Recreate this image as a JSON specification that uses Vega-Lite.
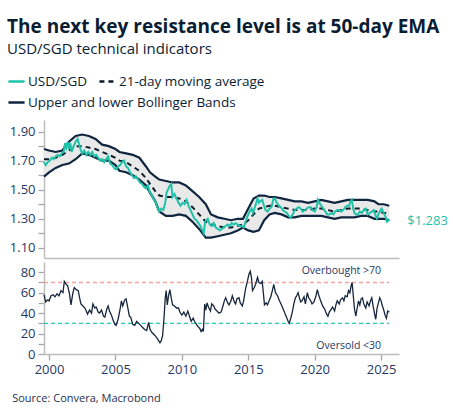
{
  "$schema": "https://vega.github.io/schema/vega-lite/v6.json",
  "background": "white",
  "padding": {"left": 7, "top": 18, "right": 5, "bottom": 8},
  "title": {
    "text": "The next key resistance level is at 50-day EMA",
    "subtitle": "USD/SGD technical indicators",
    "anchor": "start",
    "frame": "bounds",
    "font": "Open Sans",
    "fontSize": 19,
    "fontWeight": "bold",
    "color": "#0b1d33",
    "subtitleFont": "Open Sans",
    "subtitleFontSize": 15,
    "subtitleColor": "#0b1d33",
    "subtitlePadding": 5,
    "offset": 15
  },
  "datasets": {
    "fx": [
      {"t":1999.62,"p":1.69},{"t":1999.75,"p":1.67},{"t":1999.9,"p":1.69},{"t":2000.05,"p":1.70},{"t":2000.2,"p":1.72},
      {"t":2000.35,"p":1.71},{"t":2000.5,"p":1.73},{"t":2000.65,"p":1.74},{"t":2000.8,"p":1.73},{"t":2000.95,"p":1.75},
      {"t":2001.1,"p":1.76},{"t":2001.2,"p":1.82},{"t":2001.3,"p":1.79},{"t":2001.4,"p":1.83},{"t":2001.5,"p":1.78},
      {"t":2001.6,"p":1.82},{"t":2001.7,"p":1.76},{"t":2001.85,"p":1.80},{"t":2002.0,"p":1.83},{"t":2002.15,"p":1.85},
      {"t":2002.3,"p":1.80},{"t":2002.4,"p":1.77},{"t":2002.5,"p":1.75},{"t":2002.65,"p":1.77},{"t":2002.8,"p":1.74},
      {"t":2002.95,"p":1.76},{"t":2003.1,"p":1.74},{"t":2003.25,"p":1.76},{"t":2003.4,"p":1.73},{"t":2003.55,"p":1.74},
      {"t":2003.7,"p":1.72},{"t":2003.85,"p":1.70},{"t":2004.0,"p":1.71},{"t":2004.15,"p":1.69},{"t":2004.3,"p":1.71},
      {"t":2004.45,"p":1.73},{"t":2004.6,"p":1.68},{"t":2004.75,"p":1.67},{"t":2004.9,"p":1.65},{"t":2005.05,"p":1.64},
      {"t":2005.2,"p":1.66},{"t":2005.35,"p":1.67},{"t":2005.5,"p":1.69},{"t":2005.65,"p":1.70},{"t":2005.8,"p":1.66},
      {"t":2005.95,"p":1.65},{"t":2006.1,"p":1.62},{"t":2006.25,"p":1.60},{"t":2006.4,"p":1.58},{"t":2006.55,"p":1.59},
      {"t":2006.7,"p":1.57},{"t":2006.85,"p":1.55},{"t":2007.0,"p":1.54},{"t":2007.15,"p":1.52},{"t":2007.3,"p":1.51},
      {"t":2007.45,"p":1.53},{"t":2007.55,"p":1.49},{"t":2007.7,"p":1.47},{"t":2007.85,"p":1.44},{"t":2008.0,"p":1.42},
      {"t":2008.15,"p":1.38},{"t":2008.3,"p":1.35},{"t":2008.45,"p":1.37},{"t":2008.6,"p":1.36},{"t":2008.75,"p":1.41},
      {"t":2008.85,"p":1.48},{"t":2008.95,"p":1.50},{"t":2009.1,"p":1.53},{"t":2009.2,"p":1.54},{"t":2009.3,"p":1.45},
      {"t":2009.45,"p":1.47},{"t":2009.6,"p":1.44},{"t":2009.75,"p":1.41},{"t":2009.9,"p":1.39},{"t":2010.05,"p":1.41},
      {"t":2010.2,"p":1.40},{"t":2010.35,"p":1.43},{"t":2010.5,"p":1.39},{"t":2010.65,"p":1.36},{"t":2010.8,"p":1.33},
      {"t":2010.95,"p":1.30},{"t":2011.1,"p":1.29},{"t":2011.25,"p":1.27},{"t":2011.4,"p":1.25},{"t":2011.55,"p":1.22},
      {"t":2011.65,"p":1.20},{"t":2011.75,"p":1.28},{"t":2011.85,"p":1.29},{"t":2011.95,"p":1.30},{"t":2012.1,"p":1.26},
      {"t":2012.25,"p":1.25},{"t":2012.4,"p":1.27},{"t":2012.55,"p":1.24},{"t":2012.7,"p":1.23},{"t":2012.85,"p":1.22},
      {"t":2013.0,"p":1.23},{"t":2013.15,"p":1.24},{"t":2013.3,"p":1.25},{"t":2013.45,"p":1.26},{"t":2013.6,"p":1.25},
      {"t":2013.75,"p":1.27},{"t":2013.9,"p":1.26},{"t":2014.05,"p":1.27},{"t":2014.2,"p":1.26},{"t":2014.35,"p":1.25},
      {"t":2014.5,"p":1.25},{"t":2014.65,"p":1.24},{"t":2014.8,"p":1.28},{"t":2014.95,"p":1.32},{"t":2015.1,"p":1.35},
      {"t":2015.25,"p":1.37},{"t":2015.35,"p":1.34},{"t":2015.5,"p":1.38},{"t":2015.6,"p":1.41},{"t":2015.7,"p":1.44},
      {"t":2015.8,"p":1.41},{"t":2015.9,"p":1.42},{"t":2016.05,"p":1.43},{"t":2016.15,"p":1.40},{"t":2016.3,"p":1.36},
      {"t":2016.45,"p":1.35},{"t":2016.6,"p":1.37},{"t":2016.75,"p":1.38},{"t":2016.9,"p":1.44},{"t":2017.0,"p":1.44},
      {"t":2017.15,"p":1.41},{"t":2017.3,"p":1.39},{"t":2017.45,"p":1.38},{"t":2017.6,"p":1.36},{"t":2017.75,"p":1.35},
      {"t":2017.9,"p":1.34},{"t":2018.05,"p":1.32},{"t":2018.2,"p":1.31},{"t":2018.35,"p":1.33},{"t":2018.5,"p":1.36},
      {"t":2018.65,"p":1.37},{"t":2018.8,"p":1.38},{"t":2018.95,"p":1.37},{"t":2019.1,"p":1.35},{"t":2019.25,"p":1.36},
      {"t":2019.4,"p":1.37},{"t":2019.55,"p":1.38},{"t":2019.7,"p":1.38},{"t":2019.85,"p":1.36},{"t":2020.0,"p":1.35},
      {"t":2020.15,"p":1.38},{"t":2020.25,"p":1.43},{"t":2020.35,"p":1.41},{"t":2020.5,"p":1.39},{"t":2020.65,"p":1.37},
      {"t":2020.8,"p":1.35},{"t":2020.95,"p":1.33},{"t":2021.1,"p":1.33},{"t":2021.25,"p":1.34},{"t":2021.4,"p":1.33},
      {"t":2021.55,"p":1.35},{"t":2021.7,"p":1.36},{"t":2021.85,"p":1.36},{"t":2022.0,"p":1.35},{"t":2022.15,"p":1.36},
      {"t":2022.3,"p":1.38},{"t":2022.45,"p":1.39},{"t":2022.6,"p":1.39},{"t":2022.7,"p":1.42},{"t":2022.8,"p":1.43},
      {"t":2022.9,"p":1.37},{"t":2023.0,"p":1.34},{"t":2023.1,"p":1.33},{"t":2023.25,"p":1.33},{"t":2023.4,"p":1.35},
      {"t":2023.55,"p":1.34},{"t":2023.7,"p":1.36},{"t":2023.85,"p":1.37},{"t":2024.0,"p":1.33},{"t":2024.15,"p":1.34},
      {"t":2024.3,"p":1.35},{"t":2024.45,"p":1.36},{"t":2024.6,"p":1.32},{"t":2024.7,"p":1.30},{"t":2024.8,"p":1.33},
      {"t":2024.95,"p":1.36},{"t":2025.05,"p":1.37},{"t":2025.2,"p":1.34},{"t":2025.35,"p":1.31},{"t":2025.45,"p":1.28},
      {"t":2025.55,"p":1.29},{"t":2025.62,"p":1.283}
    ],
    "bb": [
      {"t":1999.62,"m":1.71,"u":1.78,"l":1.59},{"t":2000.0,"m":1.71,"u":1.77,"l":1.62},{"t":2000.5,"m":1.72,"u":1.76,"l":1.65},
      {"t":2001.0,"m":1.74,"u":1.77,"l":1.67},{"t":2001.5,"m":1.77,"u":1.83,"l":1.68},{"t":2002.0,"m":1.80,"u":1.87,"l":1.71},
      {"t":2002.5,"m":1.80,"u":1.88,"l":1.75},{"t":2003.0,"m":1.79,"u":1.87,"l":1.74},{"t":2003.5,"m":1.78,"u":1.85,"l":1.72},
      {"t":2004.0,"m":1.76,"u":1.81,"l":1.70},{"t":2004.5,"m":1.74,"u":1.80,"l":1.70},{"t":2005.0,"m":1.72,"u":1.78,"l":1.67},
      {"t":2005.3,"m":1.70,"u":1.76,"l":1.63},{"t":2005.8,"m":1.69,"u":1.75,"l":1.62},{"t":2006.3,"m":1.66,"u":1.74,"l":1.60},
      {"t":2006.8,"m":1.63,"u":1.72,"l":1.57},{"t":2007.3,"m":1.58,"u":1.66,"l":1.53},{"t":2007.6,"m":1.54,"u":1.62,"l":1.48},
      {"t":2008.0,"m":1.49,"u":1.59,"l":1.42},{"t":2008.3,"m":1.46,"u":1.57,"l":1.35},{"t":2008.8,"m":1.45,"u":1.56,"l":1.32},
      {"t":2009.3,"m":1.45,"u":1.55,"l":1.32},{"t":2009.8,"m":1.44,"u":1.55,"l":1.33},{"t":2010.3,"m":1.42,"u":1.53,"l":1.32},
      {"t":2010.8,"m":1.38,"u":1.49,"l":1.28},{"t":2011.3,"m":1.33,"u":1.45,"l":1.23},{"t":2011.8,"m":1.28,"u":1.40,"l":1.17},
      {"t":2012.2,"m":1.26,"u":1.33,"l":1.17},{"t":2012.7,"m":1.25,"u":1.31,"l":1.18},{"t":2013.2,"m":1.24,"u":1.30,"l":1.19},
      {"t":2013.7,"m":1.24,"u":1.29,"l":1.20},{"t":2014.2,"m":1.25,"u":1.30,"l":1.22},{"t":2014.6,"m":1.26,"u":1.30,"l":1.24},
      {"t":2015.0,"m":1.29,"u":1.37,"l":1.22},{"t":2015.4,"m":1.33,"u":1.44,"l":1.21},{"t":2015.8,"m":1.37,"u":1.46,"l":1.22},
      {"t":2016.2,"m":1.38,"u":1.46,"l":1.29},{"t":2016.6,"m":1.39,"u":1.45,"l":1.33},{"t":2017.0,"m":1.39,"u":1.45,"l":1.34},
      {"t":2017.5,"m":1.38,"u":1.44,"l":1.33},{"t":2018.0,"m":1.37,"u":1.43,"l":1.31},{"t":2018.5,"m":1.36,"u":1.42,"l":1.31},
      {"t":2019.0,"m":1.36,"u":1.42,"l":1.32},{"t":2019.5,"m":1.36,"u":1.41,"l":1.32},{"t":2020.0,"m":1.37,"u":1.42,"l":1.32},
      {"t":2020.5,"m":1.37,"u":1.43,"l":1.32},{"t":2021.0,"m":1.36,"u":1.42,"l":1.31},{"t":2021.5,"m":1.35,"u":1.41,"l":1.30},
      {"t":2022.0,"m":1.36,"u":1.42,"l":1.31},{"t":2022.5,"m":1.37,"u":1.43,"l":1.31},{"t":2023.0,"m":1.37,"u":1.43,"l":1.31},
      {"t":2023.5,"m":1.37,"u":1.43,"l":1.32},{"t":2024.0,"m":1.36,"u":1.43,"l":1.32},{"t":2024.5,"m":1.35,"u":1.42,"l":1.30},
      {"t":2024.8,"m":1.35,"u":1.40,"l":1.30},{"t":2025.2,"m":1.34,"u":1.40,"l":1.30},{"t":2025.62,"m":1.34,"u":1.39,"l":1.29}
    ],
    "rsi": [
      {"t":1999.62,"r":58},{"t":1999.75,"r":51},{"t":1999.9,"r":53},{"t":2000.0,"r":52},{"t":2000.15,"r":57},{"t":2000.3,"r":58},
      {"t":2000.45,"r":56},{"t":2000.6,"r":59},{"t":2000.75,"r":57},{"t":2000.9,"r":62},{"t":2001.05,"r":60},{"t":2001.15,"r":71},
      {"t":2001.3,"r":68},{"t":2001.4,"r":67},{"t":2001.55,"r":58},{"t":2001.65,"r":48},{"t":2001.8,"r":60},{"t":2001.9,"r":65},
      {"t":2002.05,"r":63},{"t":2002.2,"r":62},{"t":2002.3,"r":55},{"t":2002.4,"r":49},{"t":2002.55,"r":47},{"t":2002.7,"r":45},
      {"t":2002.8,"r":42},{"t":2002.9,"r":39},{"t":2003.05,"r":43},{"t":2003.2,"r":40},{"t":2003.3,"r":49},{"t":2003.45,"r":45},
      {"t":2003.55,"r":46},{"t":2003.7,"r":41},{"t":2003.8,"r":40},{"t":2003.95,"r":43},{"t":2004.1,"r":37},{"t":2004.2,"r":36},
      {"t":2004.35,"r":44},{"t":2004.45,"r":47},{"t":2004.55,"r":42},{"t":2004.7,"r":38},{"t":2004.8,"r":34},{"t":2004.95,"r":29},
      {"t":2005.05,"r":28},{"t":2005.2,"r":34},{"t":2005.35,"r":44},{"t":2005.45,"r":52},{"t":2005.55,"r":47},{"t":2005.7,"r":53},
      {"t":2005.8,"r":54},{"t":2005.95,"r":44},{"t":2006.05,"r":37},{"t":2006.15,"r":36},{"t":2006.3,"r":29},{"t":2006.45,"r":28},
      {"t":2006.6,"r":32},{"t":2006.75,"r":30},{"t":2006.9,"r":28},{"t":2007.05,"r":26},{"t":2007.2,"r":24},{"t":2007.35,"r":23},
      {"t":2007.5,"r":31},{"t":2007.6,"r":24},{"t":2007.75,"r":21},{"t":2007.9,"r":19},{"t":2008.05,"r":17},{"t":2008.2,"r":14},
      {"t":2008.35,"r":11},{"t":2008.45,"r":13},{"t":2008.55,"r":18},{"t":2008.65,"r":34},{"t":2008.75,"r":55},{"t":2008.82,"r":62},
      {"t":2008.9,"r":48},{"t":2009.0,"r":57},{"t":2009.1,"r":63},{"t":2009.2,"r":55},{"t":2009.3,"r":48},{"t":2009.45,"r":47},
      {"t":2009.6,"r":45},{"t":2009.75,"r":45},{"t":2009.85,"r":41},{"t":2010.0,"r":38},{"t":2010.15,"r":41},{"t":2010.3,"r":37},
      {"t":2010.45,"r":42},{"t":2010.6,"r":36},{"t":2010.7,"r":32},{"t":2010.85,"r":35},{"t":2010.95,"r":32},{"t":2011.1,"r":29},
      {"t":2011.2,"r":27},{"t":2011.35,"r":25},{"t":2011.45,"r":22},{"t":2011.55,"r":24},{"t":2011.62,"r":22},{"t":2011.72,"r":49},
      {"t":2011.8,"r":43},{"t":2011.9,"r":50},{"t":2012.0,"r":46},{"t":2012.15,"r":42},{"t":2012.25,"r":49},{"t":2012.4,"r":47},
      {"t":2012.5,"r":44},{"t":2012.65,"r":42},{"t":2012.8,"r":40},{"t":2012.95,"r":41},{"t":2013.05,"r":45},{"t":2013.2,"r":52},
      {"t":2013.3,"r":55},{"t":2013.45,"r":50},{"t":2013.55,"r":48},{"t":2013.7,"r":52},{"t":2013.8,"r":57},{"t":2013.95,"r":51},
      {"t":2014.05,"r":49},{"t":2014.15,"r":54},{"t":2014.3,"r":55},{"t":2014.4,"r":50},{"t":2014.55,"r":47},{"t":2014.65,"r":52},
      {"t":2014.8,"r":64},{"t":2014.95,"r":72},{"t":2015.05,"r":78},{"t":2015.15,"r":81},{"t":2015.25,"r":74},{"t":2015.32,"r":62},
      {"t":2015.45,"r":65},{"t":2015.55,"r":68},{"t":2015.7,"r":75},{"t":2015.8,"r":70},{"t":2015.95,"r":69},{"t":2016.05,"r":71},
      {"t":2016.15,"r":58},{"t":2016.22,"r":48},{"t":2016.35,"r":50},{"t":2016.45,"r":48},{"t":2016.6,"r":53},{"t":2016.7,"r":56},
      {"t":2016.85,"r":64},{"t":2016.92,"r":68},{"t":2017.05,"r":60},{"t":2017.2,"r":57},{"t":2017.35,"r":52},{"t":2017.5,"r":48},
      {"t":2017.6,"r":45},{"t":2017.75,"r":40},{"t":2017.85,"r":37},{"t":2018.0,"r":32},{"t":2018.08,"r":30},{"t":2018.2,"r":35},
      {"t":2018.3,"r":40},{"t":2018.45,"r":50},{"t":2018.55,"r":55},{"t":2018.65,"r":57},{"t":2018.75,"r":60},{"t":2018.85,"r":55},
      {"t":2018.95,"r":51},{"t":2019.05,"r":52},{"t":2019.2,"r":56},{"t":2019.3,"r":49},{"t":2019.45,"r":60},{"t":2019.55,"r":55},
      {"t":2019.7,"r":52},{"t":2019.8,"r":49},{"t":2019.95,"r":51},{"t":2020.1,"r":57},{"t":2020.2,"r":63},{"t":2020.3,"r":58},
      {"t":2020.45,"r":52},{"t":2020.6,"r":47},{"t":2020.75,"r":44},{"t":2020.9,"r":39},{"t":2021.0,"r":37},{"t":2021.1,"r":41},
      {"t":2021.25,"r":44},{"t":2021.35,"r":46},{"t":2021.5,"r":42},{"t":2021.6,"r":48},{"t":2021.7,"r":52},{"t":2021.85,"r":49},
      {"t":2021.95,"r":53},{"t":2022.1,"r":55},{"t":2022.2,"r":52},{"t":2022.3,"r":57},{"t":2022.45,"r":56},{"t":2022.55,"r":62},
      {"t":2022.65,"r":60},{"t":2022.75,"r":67},{"t":2022.82,"r":70},{"t":2022.9,"r":58},{"t":2023.0,"r":44},{"t":2023.1,"r":37},
      {"t":2023.2,"r":45},{"t":2023.3,"r":52},{"t":2023.4,"r":48},{"t":2023.5,"r":54},{"t":2023.6,"r":55},{"t":2023.7,"r":49},
      {"t":2023.85,"r":45},{"t":2023.95,"r":51},{"t":2024.1,"r":47},{"t":2024.2,"r":52},{"t":2024.3,"r":55},{"t":2024.4,"r":47},
      {"t":2024.5,"r":40},{"t":2024.6,"r":34},{"t":2024.7,"r":45},{"t":2024.8,"r":50},{"t":2024.9,"r":55},{"t":2025.0,"r":52},
      {"t":2025.1,"r":47},{"t":2025.2,"r":43},{"t":2025.3,"r":38},{"t":2025.4,"r":35},{"t":2025.5,"r":42},{"t":2025.62,"r":41}
    ],
    "levels": [
      {"lvl": 70, "lab": "Overbought >70", "kind": "over"},
      {"lvl": 30, "lab": "Oversold  <30", "kind": "under"}
    ]
  },
  "spacing": 4,
  "vconcat": [
    {
      "width": 355,
      "height": 138,
      "resolve": {"axis": {"y": "independent"}},
      "encoding": {
        "x": {
          "field": "t",
          "type": "quantitative",
          "scale": {"domain": [1999.62, 2026.35], "nice": false, "zero": false},
          "axis": {"labels": false, "ticks": false, "title": null, "grid": false}
        }
      },
      "layer": [
        {
          "data": {"name": "bb"},
          "mark": {"type": "area", "color": "#e9e9e9", "opacity": 1},
          "encoding": {
            "y": {
              "field": "u",
              "type": "quantitative",
              "scale": {"domain": [1.03, 1.98], "nice": false, "zero": false},
              "axis": {
                "title": null,
                "grid": false,
                "orient": "left",
                "labelOverlap": false,
                "values": [1.1, 1.3, 1.5, 1.7, 1.9],
                "format": ".2f"
              }
            },
            "y2": {"field": "l"}
          }
        },
        {
          "data": {"name": "bb"},
          "mark": {"type": "line", "strokeWidth": 2.2, "stroke": "#0f2540"},
          "encoding": {
            "y": {
              "field": "u",
              "type": "quantitative",
              "axis": {
                "title": null,
                "grid": false,
                "orient": "left",
                "labels": false,
                "domain": false,
                "values": [1.2, 1.4, 1.6, 1.8]
              }
            },
            "opacity": {
              "datum": "Upper and lower Bollinger Bands",
              "type": "nominal",
              "scale": {"domain": ["Upper and lower Bollinger Bands"], "range": [1]},
              "legend": {
                "orient": "none",
                "legendX": -37,
                "legendY": -27,
                "direction": "horizontal",
                "title": null,
                "symbolStrokeColor": "#0f2540"
              }
            }
          }
        },
        {
          "data": {"name": "bb"},
          "mark": {"type": "line", "strokeWidth": 2.2, "stroke": "#0f2540"},
          "encoding": {
            "y": {"field": "l", "type": "quantitative", "axis": null},
            "opacity": {"datum": "Upper and lower Bollinger Bands", "type": "nominal"}
          }
        },
        {
          "data": {"name": "bb"},
          "mark": {"type": "line", "strokeWidth": 2},
          "encoding": {
            "y": {"field": "m", "type": "quantitative", "axis": null},
            "stroke": {
              "datum": "21-day moving average",
              "type": "nominal",
              "scale": {"domain": ["USD/SGD", "21-day moving average"], "range": ["#1fc2a9", "#0d1b2a"]},
              "legend": {
                "orient": "none",
                "legendX": -37,
                "legendY": -48,
                "direction": "horizontal",
                "title": null
              }
            },
            "strokeDash": {
              "datum": "21-day moving average",
              "type": "nominal",
              "scale": {"domain": ["USD/SGD", "21-day moving average"], "range": [[1, 0], [5, 4]]},
              "legend": {
                "orient": "none",
                "legendX": -37,
                "legendY": -48,
                "direction": "horizontal",
                "title": null
              }
            }
          }
        },
        {
          "data": {"name": "fx"},
          "mark": {"type": "line", "strokeWidth": 2},
          "encoding": {
            "y": {"field": "p", "type": "quantitative", "axis": null},
            "stroke": {"datum": "USD/SGD", "type": "nominal"},
            "strokeDash": {"datum": "USD/SGD", "type": "nominal"}
          }
        },
        {
          "data": {"name": "fx"},
          "transform": [{"filter": "datum.t == 2025.62"}],
          "mark": {"type": "text", "align": "left", "dx": 18, "fontSize": 13, "color": "#1fc2a9"},
          "encoding": {
            "y": {"field": "p", "type": "quantitative", "axis": null},
            "text": {"field": "p", "type": "quantitative", "format": "$.3f"}
          }
        }
      ]
    },
    {
      "width": 355,
      "height": 92,
      "resolve": {"axis": {"y": "independent"}},
      "title": {
        "text": "Source: Convera, Macrobond",
        "orient": "bottom",
        "anchor": "start",
        "frame": "bounds",
        "fontSize": 11,
        "fontWeight": "normal",
        "color": "#1f3050",
        "offset": 17,
        "dx": -8
      },
      "layer": [
        {
          "data": {"name": "levels"},
          "mark": {"type": "rule", "strokeDash": [4, 3], "strokeWidth": 1.4},
          "encoding": {
            "x": {"datum": 1999.62, "type": "quantitative"},
            "x2": {"datum": 2025.62},
            "y": {
              "field": "lvl",
              "type": "quantitative",
              "axis": {
                "title": null,
                "grid": false,
                "orient": "left",
                "labels": false,
                "domain": false,
                "values": [10, 30, 50, 70]
              }
            },
            "color": {
              "field": "kind",
              "type": "nominal",
              "scale": {"domain": ["over", "under"], "range": ["#f2a49c", "#2cc9b0"]},
              "legend": null
            }
          }
        },
        {
          "data": {"name": "rsi"},
          "mark": {"type": "line", "color": "#16263d", "strokeWidth": 1.3},
          "encoding": {
            "x": {
              "field": "t",
              "type": "quantitative",
              "scale": {"domain": [1999.62, 2026.35], "nice": false, "zero": false},
              "axis": {"title": null, "grid": false, "values": [2000, 2005, 2010, 2015, 2020, 2025], "format": "d", "labelPadding": 3}
            },
            "y": {
              "field": "r",
              "type": "quantitative",
              "scale": {"domain": [0, 90], "nice": false},
              "axis": {
                "title": null,
                "grid": false,
                "orient": "left",
                "labelOverlap": false,
                "values": [0, 20, 40, 60, 80]
              }
            }
          }
        },
        {
          "data": {"name": "levels"},
          "transform": [{"filter": "datum.kind == 'over'"}],
          "mark": {"type": "text", "align": "right", "dy": -11, "fontSize": 10.5, "color": "#1f3864"},
          "encoding": {
            "x": {"datum": 2025, "type": "quantitative"},
            "y": {"field": "lvl", "type": "quantitative", "axis": null},
            "text": {"field": "lab"}
          }
        },
        {
          "data": {"name": "levels"},
          "transform": [{"filter": "datum.kind == 'under'"}],
          "mark": {"type": "text", "align": "right", "dy": 23, "fontSize": 10.5, "color": "#1f3864"},
          "encoding": {
            "x": {"datum": 2025, "type": "quantitative"},
            "y": {"field": "lvl", "type": "quantitative", "axis": null},
            "text": {"field": "lab"}
          }
        }
      ]
    }
  ],
  "config": {
    "font": "Open Sans",
    "view": {"stroke": null},
    "axis": {
      "domainColor": "#bdbdbd",
      "domainWidth": 1.5,
      "tickColor": "#a6a6a6",
      "tickWidth": 1.3,
      "tickSize": 6,
      "labelColor": "#1f3864",
      "labelFontSize": 13,
      "labelPadding": 3,
      "labelFont": "Open Sans"
    },
    "legend": {
      "symbolType": "stroke",
      "symbolSize": 260,
      "symbolStrokeWidth": 2.5,
      "labelFontSize": 13.5,
      "labelColor": "#0b1d33",
      "labelFont": "Open Sans",
      "labelOffset": 2,
      "labelLimit": 400,
      "columnPadding": 6,
      "rowPadding": 4
    }
  }
}
